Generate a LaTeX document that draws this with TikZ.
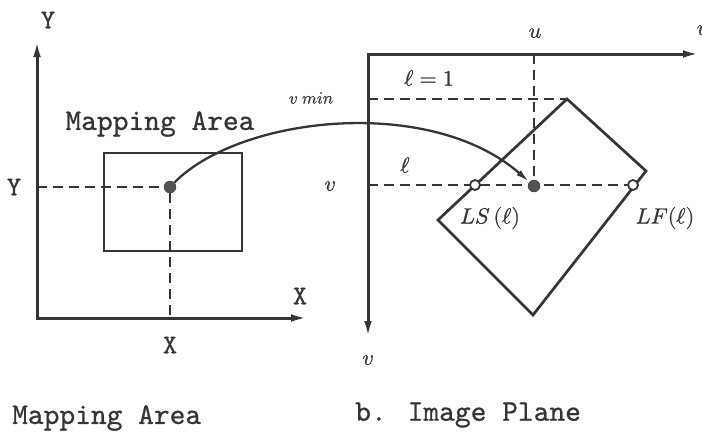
\documentclass[tikz,border=0pt]{standalone}
\usepackage{fontspec}
\usepackage{unicode-math}
\setmathfont{latinmodern-math.otf}[FakeBold=0.8]
\setmonofont{lmmono10-regular.otf}[FakeBold=0.7]
\usetikzlibrary{arrows.meta}
\definecolor{ink}{HTML}{353535}
\begin{document}
\begin{tikzpicture}[x=1pt,y=-1pt,
  axis/.style={draw=ink, line width=3pt, -{Latex[length=17pt,width=7.5pt]}},
  frame/.style={draw=ink, line width=2.7pt, line join=miter},
  guide/.style={draw=ink, line width=2.3pt, dash pattern=on 10pt off 6pt},
  tw/.style={font=\ttfamily\fontsize{30}{34}\selectfont, text=ink, inner sep=0pt},
  tws/.style={font=\ttfamily\fontsize{27}{30}\selectfont, text=ink, inner sep=0pt},
  mlab/.style={font=\fontsize{22}{26}\selectfont, text=ink, inner sep=0pt},
  slab/.style={font=\fontsize{17}{20}\selectfont, text=ink, inner sep=0pt},
  bigdot/.style={circle, fill=ink!85, draw=ink, minimum size=12pt, inner sep=0pt},
  opendot/.style={circle, fill=white, draw=ink, line width=1.8pt, minimum size=10pt, inner sep=0pt},
  curvearrow/.style={draw=ink, line width=2.3pt, -{Latex[length=14pt,width=6.5pt]}}]
\useasboundingbox (0,0) rectangle (702,432);
\clip (0,0) rectangle (702,432);
% ---------- left panel ----------
\coordinate (O1) at (37,318);
\coordinate (Ytip) at (37,40);
\coordinate (Xtip) at (308,318);
\coordinate (Yleft) at (37,187);
\coordinate (Xbot) at (170,318);
\draw[axis] (O1) -- (Ytip);
\draw[axis] ([xshift=-1.5pt]O1) -- (Xtip);
\draw[frame] (104,153) rectangle (242,251);
\node[bigdot] (A) at (170,187) {};
\draw[guide] (Yleft) -- (A);
\draw[guide] (A) -- (Xbot);
\node[tws] (ylab) at (48,20) {Y};
\node[tws] (yval) at (14,187) {Y};
\node[tws] (xlab) at (300,296) {X};
\node[tws] (xval) at (170,345) {X};
\node[tw] (malab) at (160,124) {Mapping Area};
\node[tw, anchor=west] (cap1) at (12,418) {Mapping Area};
% ---------- right panel ----------
\coordinate (O2) at (368,54);
\coordinate (Utip) at (700,54);
\coordinate (Vtip) at (368,338);
\coordinate (Utop) at (534,54);
\coordinate (Vmin) at (368,99);
\coordinate (Vrow) at (368,185);
\coordinate (P1) at (567,99);
\coordinate (P2) at (646,171);
\coordinate (P3) at (533,315);
\coordinate (P4) at (438,220);
\draw[axis] ([xshift=-1.5pt]O2) -- (Utip);
\draw[axis] (O2) -- (Vtip);
\draw[guide] (Vmin) -- (P1);
\draw[guide] (Vrow) -- (633,185);
\draw[guide] (Utop) -- (534,186);
\draw[frame] (P1) -- (P2) -- (P3) -- (P4) -- cycle;
\node[opendot] (LS) at (475,185) {};
\node[opendot] (LF) at (633,185) {};
\node[bigdot] (B) at (534,186) {};
\draw[curvearrow] (A) .. controls (240,116) and (430,95) .. (B);
\node[mlab] (ulab) at (535,33) {$u$};
\node[mlab] (ucut) at (703,30) {$u$};
\node[mlab] (l1) at (429,78) {$\ell = 1$};
\node[slab] (vmin) at (311,98) {$v\;min$};
\node[mlab] (vv) at (330,186) {$v$};
\node[mlab] (ll) at (405,165) {$\ell$};
\node[mlab] (vlab) at (368,360) {$v$};
\node[mlab] (lsl) at (490,218) {$LS\,(\ell)$};
\node[mlab] (lfl) at (665,218) {$LF(\ell)$};
\node[tw, anchor=west] (cap2) at (355,415) {b. Image Plane};
\end{tikzpicture}
\end{document}
